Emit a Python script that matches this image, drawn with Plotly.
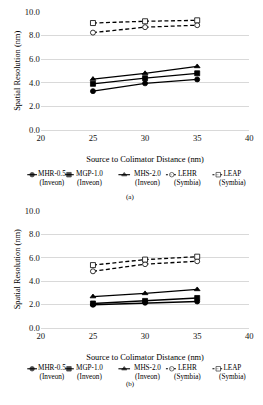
import plotly.graph_objects as go

distances = [25, 30, 35]
series_names = ["MHR-0.5", "MGP-1.0", "MHS-2.0", "LEHR", "LEAP"]
series_sub = ["(Inveon)", "(Inveon)", "(Inveon)", "(Symbia)", "(Symbia)"]
a_mhr = [3.28, 3.94, 4.27]
a_mgp = [3.9, 4.38, 4.79]
a_mhs = [4.3, 4.79, 5.37]
a_lehr = [8.24, 8.7, 8.87]
a_leap = [9.05, 9.2, 9.28]
b_mhr = [1.97, 2.14, 2.25]
b_mgp = [2.08, 2.3, 2.55]
b_mhs = [2.67, 2.94, 3.28]
b_lehr = [4.83, 5.44, 5.69]
b_leap = [5.36, 5.83, 6.08]
y_ticks = [0, 2, 4, 6, 8, 10]
y_ticklabels = ["0.0", "2.0", "4.0", "6.0", "8.0", "10.0"]
x_ticks = [20, 25, 30, 35, 40]

W, H = 263, 405
FONT = "Liberation Serif"
styles = [
    dict(symbol="circle", fill="black", dash="solid"),
    dict(symbol="square", fill="black", dash="solid"),
    dict(symbol="triangle-up", fill="black", dash="solid"),
    dict(symbol="circle", fill="white", dash="4px,2.5px"),
    dict(symbol="square", fill="white", dash="4px,2.5px"),
]

fig = go.Figure()

def add_panel(vals, xa, ya):
    for v, st in zip(vals, styles):
        fig.add_trace(go.Scatter(
            x=distances, y=v, mode="lines+markers", xaxis=xa, yaxis=ya,
            line=dict(color="black", width=1.3, dash=st["dash"]),
            marker=dict(symbol=st["symbol"], size=5, color=st["fill"],
                        line=dict(color="black", width=0.8)),
            showlegend=False))

add_panel([a_mhr, a_mgp, a_mhs, a_lehr, a_leap], "x", "y")
add_panel([b_mhr, b_mgp, b_mhs, b_lehr, b_leap], "x2", "y2")

# custom legends on a hidden pixel-like overlay axis
leg_line = [(24, 34, 29), (63, 72, 67), (118, 130, 124), (167, 178, 173), (215, 225, 221)]
leg_text_cx = [50, 88, 148, 189, 236]
ann = []
for row_y, lab, lab_y in [(174, "(a)", 197), (373, "(b)", 389)]:
    for (x0, x1, xm), st, cx, nm, sub in zip(leg_line, styles, leg_text_cx,
                                            series_names, series_sub):
        fig.add_trace(go.Scatter(
            x=[x0, xm, x1], y=[row_y, row_y, row_y], mode="lines+markers",
            xaxis="x3", yaxis="y3",
            line=dict(color="black", width=1.1,
                      dash="solid" if st["dash"] == "solid" else "2px,2px"),
            marker=dict(symbol=st["symbol"], size=[0, 4.5, 0], color=st["fill"],
                        line=dict(color="black", width=0.8)),
            showlegend=False, hoverinfo="skip"))
        ann.append(dict(x=cx, y=row_y + 4, xref="x3", yref="y3", text=nm + "<br>" + sub,
                        showarrow=False, xanchor="center", yanchor="middle", align="center",
                        borderpad=0, font=dict(family=FONT, size=7.2, color="black")))
    ann.append(dict(x=130, y=lab_y, xref="x3", yref="y3", text=lab, showarrow=False,
                    font=dict(family=FONT, size=7, color="black")))

xdom = [38 / W, 253 / W]
ya_common = dict(range=[0, 10], tickvals=y_ticks, ticktext=y_ticklabels,
                 showgrid=True, gridcolor="#d9d9d9", gridwidth=1, zeroline=False,
                 showline=False, ticks="", ticklen=0,
                 tickfont=dict(family=FONT, size=8.6, color="#111"),
                 title=dict(text="Spatial Resolution (nm)", font=dict(family=FONT, size=8.4, color="black"), standoff=2))
xa_common = dict(range=[20, 40], tickvals=x_ticks, showgrid=False, zeroline=False,
                 showline=True, linecolor="#d9d9d9", linewidth=1, ticks="",
                 tickfont=dict(family=FONT, size=8.6, color="#111"),
                 title=dict(text="Source to Colimator Distance (nm)", font=dict(family=FONT, size=8.4, color="black"), standoff=13))

fig.update_layout(
    width=W, height=H, margin=dict(l=0, r=0, t=0, b=0),
    paper_bgcolor="white", plot_bgcolor="rgba(0,0,0,0)",
    xaxis=dict(domain=xdom, anchor="y", **xa_common),
    yaxis=dict(domain=[1 - 128 / H, 1 - 7 / H], anchor="x", **ya_common),
    xaxis2=dict(domain=xdom, anchor="y2", **xa_common),
    yaxis2=dict(domain=[1 - 331 / H, 1 - 211 / H], anchor="x2", **ya_common),
    xaxis3=dict(domain=[0, 1], range=[0, W], visible=False, anchor="y3"),
    yaxis3=dict(domain=[0, 1], range=[H, 0], visible=False, anchor="x3"),
    annotations=ann,
)
fig.write_html("out.html")
